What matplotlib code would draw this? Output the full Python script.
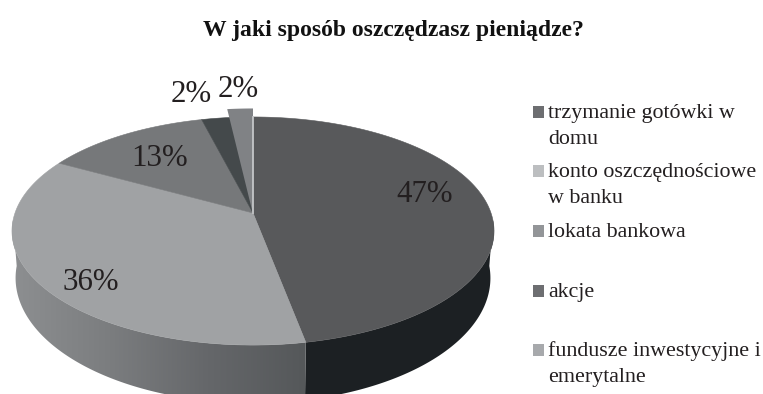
import numpy as np
import matplotlib
matplotlib.use("Agg")
import matplotlib.pyplot as plt
from matplotlib.patches import Polygon, Rectangle
from matplotlib.colors import LinearSegmentedColormap

# survey results, clockwise from 12 o'clock
values = [47, 36, 13, 2, 2]
labels = ["trzymanie gotówki w\ndomu", "konto oszczędnościowe\nw banku", "lokata bankowa",
          "akcje", "fundusze inwestycyjne i\nemerytalne"]
top_colors = ["#58595b", "#a0a2a4", "#76787a", "#44494b", "#808285"]
legend_colors = ["#6d6e71", "#bcbec0", "#939598", "#6d6e71", "#a7a9ac"]
title = "W jaki sposób oszczędzasz pieniądze?"

plt.rcParams["font.family"] = ["Liberation Serif", "DejaVu Serif"]
text_color = "#231f20"

# tilted disc: a circle seen in perspective
cx, cy = 253.0, 213.0
A, B, k = 238.0, 111.2, 0.158
ell_y = 231.0
depth = 47.0


def rim(frac):
    t = 2 * np.pi * np.asarray(frac)
    w = 1 + k * np.cos(t)
    return cx + A * np.sin(t) / w, cy - B * np.cos(t) / w


def rim_low(frac):
    x, y = rim(frac)
    return cx + (x - cx) * 0.985, ell_y + (y - ell_y) * 1.096 + depth


def wall(f0, f1):
    f = np.linspace(f0, f1, 120)
    xt, yt = rim(f)
    xb, yb = rim_low(f)
    return np.column_stack([np.r_[xt, xb[::-1]], np.r_[yt, yb[::-1]]])


fig = plt.figure(figsize=(7.63, 3.94), dpi=100)
ax = fig.add_axes([0, 0, 1, 1])
ax.set_xlim(0, 763)
ax.set_ylim(394, 0)
ax.axis("off")

edges = np.cumsum([0] + values) / sum(values)

# side walls
ax.add_patch(Polygon(wall(0.26, edges[1]), closed=True, fc="#1c2023", ec="none", zorder=1))
left = Polygon(wall(edges[1], 0.74), closed=True, fc="none", ec="none", zorder=1)
ax.add_patch(left)
wall_cmap = LinearSegmentedColormap.from_list("wall", ["#8d8f91", "#7b7d7f", "#65676a", "#55585a"])
grad = ax.imshow(np.linspace(0, 1, 256)[None, :], extent=(12, 306, 394, 200), cmap=wall_cmap,
                 aspect="auto", zorder=1)
grad.set_clip_path(left)
ax.set_xlim(0, 763)
ax.set_ylim(394, 0)

# top faces; the dark wedge runs on under the pulled-out slice
ends = [edges[1], edges[2], edges[3], edges[4] + 0.01]
for i in range(4):
    x, y = rim(np.linspace(edges[i], ends[i], 150))
    pts = np.column_stack([np.r_[cx, x], np.r_[cy, y]])
    ax.add_patch(Polygon(pts, closed=True, fc=top_colors[i], ec=top_colors[i], lw=0.4, zorder=2))

# pulled-out slice
lift = 8.5
x, y = rim(np.linspace(edges[4], edges[5], 30))
pts = np.column_stack([np.r_[cx, x], np.r_[cy + 1, y - lift]])
ax.add_patch(Polygon(pts, closed=True, fc=top_colors[4], ec="none", zorder=3))
ax.plot([cx + 0.3, cx + 0.3], [cy, 117], color="#c4c6c8", lw=1.3, zorder=3)

# value labels
label_pos = [(425, 194), (91, 282), (160, 158), (191, 94), (238, 89)]
for v, (lx, ly) in zip(values, label_pos):
    ax.text(lx, ly, f"{v}%", fontsize=22.2, color=text_color, ha="center", va="center", zorder=4)

# legend
baselines = [118, 177, 237, 297, 356]
for lab, col, base in zip(labels, legend_colors, baselines):
    ax.add_patch(Rectangle((533, base - 12), 10.5, 12, fc=col, ec="none"))
    for n, line in enumerate(lab.split("\n")):
        ax.text(548, base + n * 26, line, fontsize=15.8, color=text_color, ha="left", va="baseline")

ax.text(393.5, 30, title, fontsize=17, fontweight="bold", color="#111111", ha="center", va="center")

fig.savefig("out.png", dpi=100)
